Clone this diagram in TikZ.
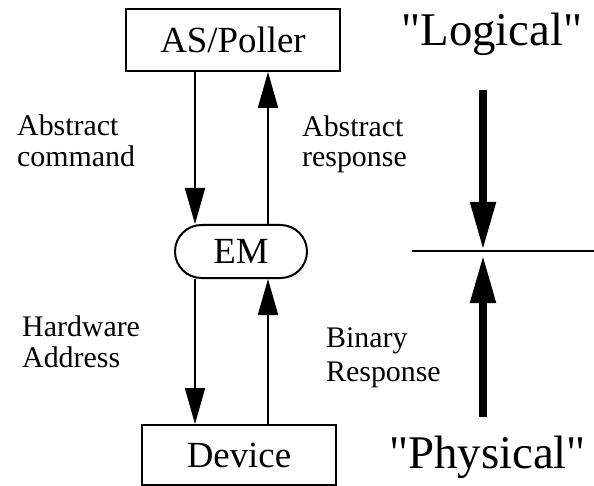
\documentclass[tikz,border=0pt]{standalone}
\usepackage{fontspec}
\setmainfont{Liberation Serif}
\usetikzlibrary{arrows.meta}
\newcommand\straightq{\XeTeXglyph\XeTeXglyphindex "quotedbl"\relax}
\begin{document}
\begin{tikzpicture}[x=1bp,y=-1bp,
  box/.style={draw, line width=2bp, inner sep=0pt, font=\fontsize{37}{40}\selectfont},
  lbl/.style={anchor=base west, inner sep=0pt, font=\fontsize{30}{31}\selectfont},
  big/.style={anchor=base, inner sep=0pt, font=\fontsize{47}{50}\selectfont},
  arr/.style={line width=2bp, -{Triangle[length=36bp,width=20bp]}},
  thickarr/.style={line width=8bp, -{Triangle[length=48bp,width=24bp]}}]
\useasboundingbox (0,0) rectangle (594,486);
% boxes
\node[box, minimum width=214bp, minimum height=62bp] (as) at (233,40) {AS/Poller};
\node[box, minimum width=132bp, minimum height=53bp, rounded corners=26.5bp] (em) at (241,251.5) {EM};
\node[box, minimum width=194bp, minimum height=60bp] (dev) at (239,455) {Device};
% arrow columns
\coordinate (lx) at (195,0);
\coordinate (rx) at (268,0);
\draw[arr] (as.south -| lx) -- (em.north -| lx);
\draw[arr] (em.north -| rx) -- (as.south -| rx);
\draw[arr] (em.south -| lx) -- (dev.north -| lx);
\draw[arr] (dev.north -| rx) -- (em.south -| rx);
% labels
\node[lbl] (ac1) at (17,136) {Abstract};
\node[lbl] (ac2) at (17,167) {command};
\node[lbl] (ar1) at (302,137) {Abstract};
\node[lbl] (ar2) at (302,167) {response};
\node[lbl] (ha1) at (22,336) {Hardware};
\node[lbl] (ha2) at (22,367) {Address};
\node[lbl] (br1) at (326,347) {Binary};
\node[lbl] (br2) at (326,381) {Response};
% right side
\node[big] (logical) at (492,46) {\straightq Logical\straightq};
\node[big] (physical) at (487.5,468) {\straightq Physical\straightq};
\coordinate (hl) at (412,251);
\coordinate (hr) at (594,251);
\draw[line width=2bp] (hl) -- (hr);
\coordinate (dtop) at (483,90);
\coordinate (dtip) at (483,250);
\coordinate (ubot) at (483,417);
\coordinate (utip) at (483,255);
\draw[thickarr] (dtop) -- (dtip);
\draw[thickarr] (ubot) -- (utip);
\end{tikzpicture}
\end{document}
